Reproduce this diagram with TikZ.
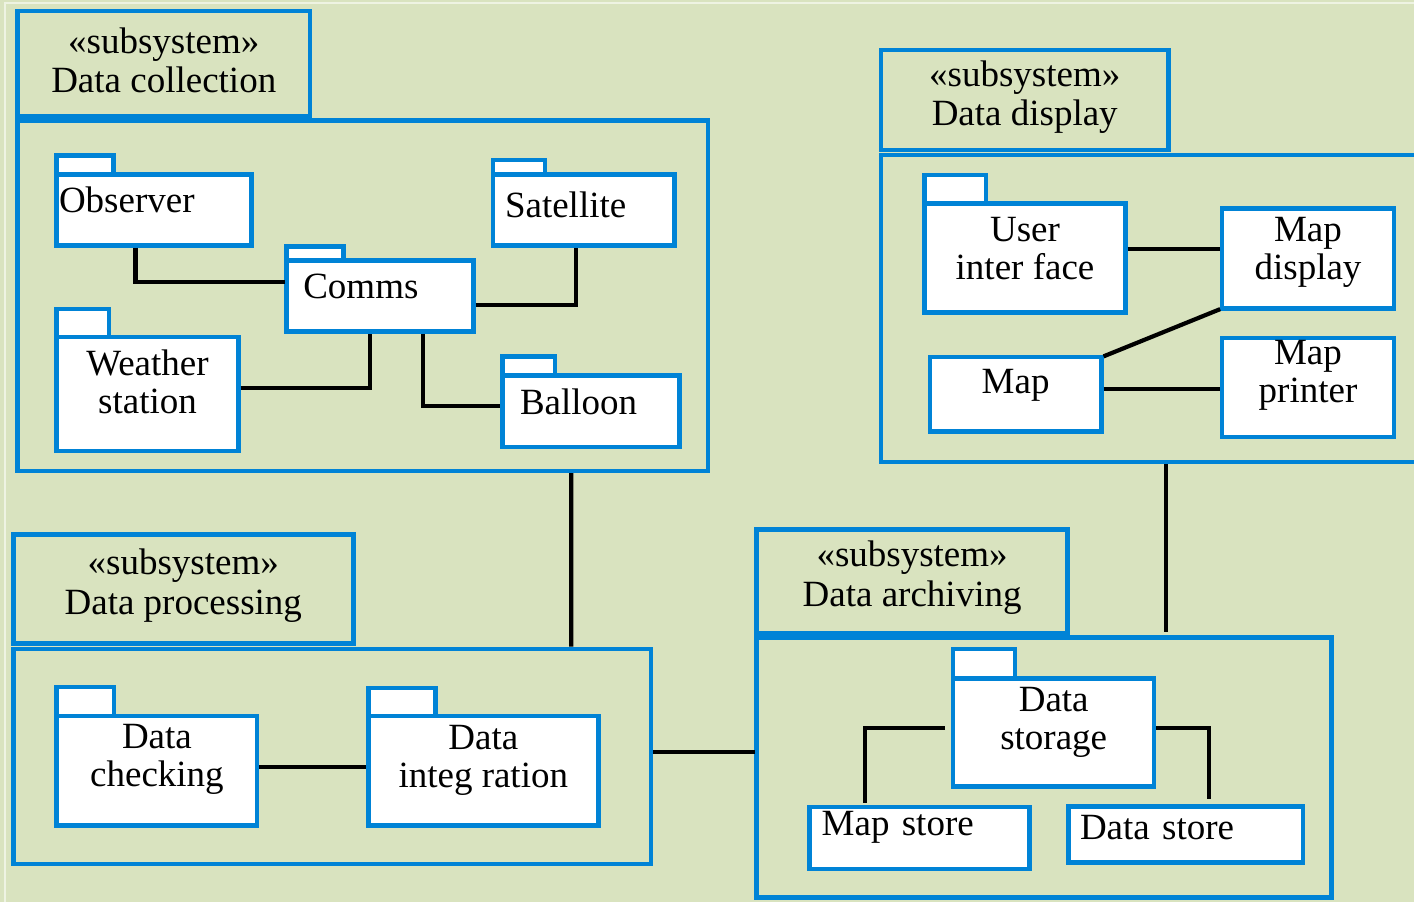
\documentclass[tikz,border=0pt]{standalone}
\usepackage{fontspec}
\setmainfont{Liberation Serif}
\definecolor{bgGreen}{RGB}{217,227,191}
\definecolor{pkgBlue}{RGB}{0,131,214}

\begin{document}
\begin{tikzpicture}[x=1pt,y=-1pt,
  every node/.style={font=\fontsize{37pt}{38pt}\selectfont, inner sep=0pt, outer sep=0pt, text height=25pt},
  subbody/.style={draw=pkgBlue, line width=4.5pt, anchor=north west, text height=0pt, text depth=0pt},
  subtab/.style={draw=pkgBlue, line width=4.5pt, anchor=north west, align=center, text height=64.5pt, font=\fontsize{37pt}{39.5pt}\selectfont},
  pkg/.style={draw=pkgBlue, line width=4.5pt, fill=white, anchor=north west},
  twoline/.style={align=center, text height=63pt},
  pkgtab/.style={draw=pkgBlue, line width=4.5pt, fill=white, anchor=south west, text height=0pt, text depth=0pt},
  link/.style={line width=4.2pt, shorten >=2.2pt, shorten <=2.2pt}]
\useasboundingbox (0,0) rectangle (1414,902);
\fill[bgGreen] (0,0) rectangle (1414,902);
\draw[line width=1.5pt, white!55!bgGreen] (5,910) -- (5,3) -- (1420,3);

% subsystems
\node[subtab, minimum width=292.5pt, minimum height=105pt, text depth=6.1pt] (CollTab) at (17.5,11) {«subsystem»\\Data collection};
\node[subbody, minimum width=690.3pt, minimum height=350.3pt] (Coll) at (17.5,120.5) {};
\node[subtab, minimum width=287.1pt, minimum height=100pt, text depth=12.7pt] (DispTab) at (881.2,49.8) {«subsystem»\\Data display};
\node[subbody, minimum width=560pt, minimum height=307.2pt] (Disp) at (881.2,154.8) {};
\node[subtab, minimum width=340pt, minimum height=109.2pt, text depth=14.1pt] (ProcTab) at (13.3,534.5) {«subsystem»\\Data processing};
\node[subbody, minimum width=637.9pt, minimum height=215.2pt] (Proc) at (13.3,648.8) {};
\node[subtab, minimum width=310.8pt, minimum height=103.5pt, text depth=15pt] (ArchTab) at (756.7,529.5) {«subsystem»\\Data archiving};
\node[subbody, minimum width=575pt, minimum height=260pt] (Arch) at (756.7,637.5) {};

% data collection
\node[pkg, minimum width=195pt, minimum height=71pt, text width=190pt, align=left, text depth=19.6pt] (Obs) at (56.5,174.5) {Observer};
\node[pkgtab, minimum width=57pt, minimum height=19pt] (ObsTab) at (Obs.north west) {};
\node[pkg, minimum width=181.5pt, minimum height=71pt, text width=157.5pt, align=left, text depth=10.4pt] (Sat) at (493,174.5) {Satellite};
\node[pkgtab, minimum width=52pt, minimum height=14.5pt] (SatTab) at (Sat.north west) {};
\node[pkg, minimum width=186.8pt, minimum height=71.2pt, text width=153.6pt, align=left, text depth=20.6pt] (Comms) at (286.7,260.5) {Comms};
\node[pkgtab, minimum width=57pt, minimum height=13.8pt] (CommsTab) at (Comms.north west) {};
\node[pkg, twoline, minimum width=181.6pt, minimum height=113.6pt, text depth=24.4pt] (Wst) at (56.7,337.2) {Weather\\station};
\node[pkgtab, minimum width=52.1pt, minimum height=28.4pt] (WstTab) at (Wst.north west) {};
\node[pkg, minimum width=177pt, minimum height=71.5pt, text width=142pt, align=left, text depth=19.5pt] (Bal) at (502.5,375.5) {Balloon};
\node[pkgtab, minimum width=52.3pt, minimum height=18.8pt] (BalTab) at (Bal.north west) {};

% data display
\node[pkg, twoline, minimum width=201pt, minimum height=109.2pt, text depth=20.2pt] (UI) at (924.5,203.3) {User\\inter face};
\node[pkgtab, minimum width=61.7pt, minimum height=28.5pt] (UITab) at (UI.north west) {};
\node[pkg, twoline, minimum width=171.6pt, minimum height=100pt, text depth=21.6pt] (MapD) at (1222.2,208.3) {Map\\display};
\node[pkg, minimum width=171.7pt, minimum height=74.5pt, align=center, text depth=27.3pt] (Map) at (929.8,357.2) {Map};
\node[pkg, twoline, minimum width=171.6pt, minimum height=99.2pt, text depth=32.8pt] (MapP) at (1222.2,338) {Map\\printer};

% data processing
\node[pkg, twoline, minimum width=200.5pt, minimum height=109.3pt, text depth=31.3pt] (Check) at (56.7,716.2) {Data\\checking};
\node[pkgtab, minimum width=57.1pt, minimum height=29pt] (CheckTab) at (Check.north west) {};
\node[pkg, twoline, minimum width=230pt, minimum height=109.5pt, text depth=30.3pt] (Integ) at (368.3,716.2) {Data\\integ ration};
\node[pkgtab, minimum width=67.2pt, minimum height=28.4pt] (IntegTab) at (Integ.north west) {};

% data archiving
\node[pkg, twoline, minimum width=201pt, minimum height=108.2pt, text depth=29.8pt] (Stor) at (953.2,678.3) {Data\\storage};
\node[pkgtab, minimum width=61.6pt, minimum height=29.5pt] (StorTab) at (Stor.north west) {};
\node[pkg, minimum width=220pt, minimum height=61.6pt, text width=195.6pt, align=left, text depth=31pt] (MapSt) at (809.5,807.2) {Map store};
\node[pkg, minimum width=234.7pt, minimum height=55.8pt, text width=211.3pt, align=left, text depth=15.6pt] (DataSt) at (1068.3,806.7) {Data store};

% links
\draw[link] ([xshift=-18.5pt]Obs.south) |- ([yshift=14.1pt]Comms.west);
\draw[link] ([yshift=-9.2pt]Comms.east) -| ([xshift=-7.75pt]Sat.south);
\draw[link] ([yshift=5.8pt]Wst.east) -| ([xshift=-10.1pt]Comms.south);
\draw[link] ([xshift=42.9pt]Comms.south) |- ([yshift=4.95pt]Bal.west);
\draw[link] ([yshift=9.2pt]UI.east) -- ([yshift=9.6pt]MapD.west);
\draw[link] (Map.north east) -- (MapD.south west);
\draw[link] ([yshift=5.75pt]Map.east) -- ([yshift=-1.1pt]MapP.west);
\draw[link] ([yshift=4.15pt]Check.east) -- ([yshift=4.25pt]Integ.west);
\draw[link] ([xshift=208.65pt]Coll.south) -- ([xshift=239.05pt]Proc.north);
\draw[link] ([yshift=4.4pt]Proc.east) -- ([yshift=15.5pt]Arch.west);
\draw[link, shorten >=5.5pt] ([xshift=5.1pt]Disp.south) -- ([xshift=122.1pt]Arch.north);
\draw[link, shorten <=8.2pt, shorten >=3.9pt] ([yshift=4.1pt]Stor.west) -| ([xshift=-54.8pt]MapSt.north);
\draw[link, shorten >=7.4pt] ([yshift=4.1pt]Stor.east) -| ([xshift=23.55pt]DataSt.north);
\end{tikzpicture}
\end{document}
